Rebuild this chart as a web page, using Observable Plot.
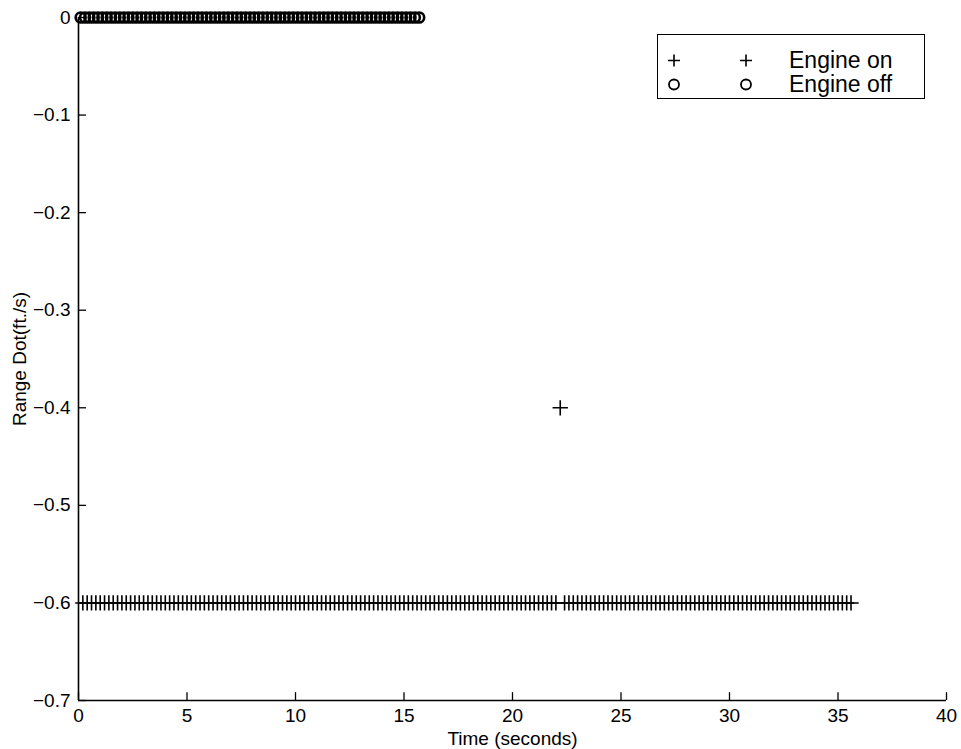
<!DOCTYPE html>
<html>
<head>
<meta charset="utf-8">
<script src="https://cdn.jsdelivr.net/npm/d3@7"></script>
<script src="https://cdn.jsdelivr.net/npm/@observablehq/plot@0.6"></script>
<style>
  html, body { margin: 0; padding: 0; background: #fff; }
  #wrap { position: relative; width: 961px; height: 749px; }
  #legend { position: absolute; left: 657px; top: 34px; width: 268px; height: 65px;
    border: 1.5px solid #000; background: #fff; box-sizing: border-box;
    font-family: "Liberation Sans", Arial, sans-serif; font-size: 23px; color: #000; }
  #legend .row { position: absolute; left: 0; height: 23px; width: 100%; }
  #legend .lab { position: absolute; left: 131px; top: 0; line-height: 23px; }
  #legend svg { position: absolute; top: 0; }
</style>
</head>
<body>
<div id="wrap">
  <div id="chart"></div>
  <div id="legend"></div>
</div>
<script>
const xTicks = [0, 5, 10, 15, 20, 25, 30, 35, 40];
const yTicks = [0, -0.1, -0.2, -0.3, -0.4, -0.5, -0.6, -0.7];
const seriesNames = ["Engine on", "Engine off"];

// Engine on samples (time, range dot)
const onTime = [
  0.2,0.4,0.6,0.8,1.0,1.2,1.4,1.6,1.8,2.0,
  2.2,2.4,2.6,2.8,3.0,3.2,3.4,3.6,3.8,4.0,
  4.2,4.4,4.6,4.8,5.0,5.2,5.4,5.6,5.8,6.0,
  6.2,6.4,6.6,6.8,7.0,7.2,7.4,7.6,7.8,8.0,
  8.2,8.4,8.6,8.8,9.0,9.2,9.4,9.6,9.8,10.0,
  10.2,10.4,10.6,10.8,11.0,11.2,11.4,11.6,11.8,12.0,
  12.2,12.4,12.6,12.8,13.0,13.2,13.4,13.6,13.8,14.0,
  14.2,14.4,14.6,14.8,15.0,15.2,15.4,15.6,15.8,16.0,
  16.2,16.4,16.6,16.8,17.0,17.2,17.4,17.6,17.8,18.0,
  18.2,18.4,18.6,18.8,19.0,19.2,19.4,19.6,19.8,20.0,
  20.2,20.4,20.6,20.8,21.0,21.2,21.4,21.6,21.8,22.0,
  22.2,22.4,22.6,22.8,23.0,23.2,23.4,23.6,23.8,24.0,
  24.2,24.4,24.6,24.8,25.0,25.2,25.4,25.6,25.8,26.0,
  26.2,26.4,26.6,26.8,27.0,27.2,27.4,27.6,27.8,28.0,
  28.2,28.4,28.6,28.8,29.0,29.2,29.4,29.6,29.8,30.0,
  30.2,30.4,30.6,30.8,31.0,31.2,31.4,31.6,31.8,32.0,
  32.2,32.4,32.6,32.8,33.0,33.2,33.4,33.6,33.8,34.0,
  34.2,34.4,34.6,34.8,35.0,35.2,35.4,35.6
];
const onValue = [
  -0.6,-0.6,-0.6,-0.6,-0.6,-0.6,-0.6,-0.6,-0.6,-0.6,
  -0.6,-0.6,-0.6,-0.6,-0.6,-0.6,-0.6,-0.6,-0.6,-0.6,
  -0.6,-0.6,-0.6,-0.6,-0.6,-0.6,-0.6,-0.6,-0.6,-0.6,
  -0.6,-0.6,-0.6,-0.6,-0.6,-0.6,-0.6,-0.6,-0.6,-0.6,
  -0.6,-0.6,-0.6,-0.6,-0.6,-0.6,-0.6,-0.6,-0.6,-0.6,
  -0.6,-0.6,-0.6,-0.6,-0.6,-0.6,-0.6,-0.6,-0.6,-0.6,
  -0.6,-0.6,-0.6,-0.6,-0.6,-0.6,-0.6,-0.6,-0.6,-0.6,
  -0.6,-0.6,-0.6,-0.6,-0.6,-0.6,-0.6,-0.6,-0.6,-0.6,
  -0.6,-0.6,-0.6,-0.6,-0.6,-0.6,-0.6,-0.6,-0.6,-0.6,
  -0.6,-0.6,-0.6,-0.6,-0.6,-0.6,-0.6,-0.6,-0.6,-0.6,
  -0.6,-0.6,-0.6,-0.6,-0.6,-0.6,-0.6,-0.6,-0.6,-0.6,
  -0.4,-0.6,-0.6,-0.6,-0.6,-0.6,-0.6,-0.6,-0.6,-0.6,
  -0.6,-0.6,-0.6,-0.6,-0.6,-0.6,-0.6,-0.6,-0.6,-0.6,
  -0.6,-0.6,-0.6,-0.6,-0.6,-0.6,-0.6,-0.6,-0.6,-0.6,
  -0.6,-0.6,-0.6,-0.6,-0.6,-0.6,-0.6,-0.6,-0.6,-0.6,
  -0.6,-0.6,-0.6,-0.6,-0.6,-0.6,-0.6,-0.6,-0.6,-0.6,
  -0.6,-0.6,-0.6,-0.6,-0.6,-0.6,-0.6,-0.6,-0.6,-0.6,
  -0.6,-0.6,-0.6,-0.6,-0.6,-0.6,-0.6,-0.6
];

// Engine off samples (time, range dot)
const offTime = [
  0.1,0.3,0.5,0.7,0.9,1.1,1.3,1.5,1.7,1.9,
  2.1,2.3,2.5,2.7,2.9,3.1,3.3,3.5,3.7,3.9,
  4.1,4.3,4.5,4.7,4.9,5.1,5.3,5.5,5.7,5.9,
  6.1,6.3,6.5,6.7,6.9,7.1,7.3,7.5,7.7,7.9,
  8.1,8.3,8.5,8.7,8.9,9.1,9.3,9.5,9.7,9.9,
  10.1,10.3,10.5,10.7,10.9,11.1,11.3,11.5,11.7,11.9,
  12.1,12.3,12.5,12.7,12.9,13.1,13.3,13.5,13.7,13.9,
  14.1,14.3,14.5,14.7,14.9,15.1,15.3,15.5,15.7
];
const offValue = [
  0,0,0,0,0,0,0,0,0,0,
  0,0,0,0,0,0,0,0,0,0,
  0,0,0,0,0,0,0,0,0,0,
  0,0,0,0,0,0,0,0,0,0,
  0,0,0,0,0,0,0,0,0,0,
  0,0,0,0,0,0,0,0,0,0,
  0,0,0,0,0,0,0,0,0,0,
  0,0,0,0,0,0,0,0,0
];

const onData = onTime.map((t, i) => ({t, v: onValue[i]}));
const offData = offTime.map((t, i) => ({t, v: offValue[i]}));

const chart = Plot.plot({
  width: 961,
  height: 749,
  marginLeft: 78,
  marginRight: 15,
  marginTop: 17,
  marginBottom: 49,
  style: {fontFamily: "'Liberation Sans', Arial, sans-serif", fontSize: "19px", color: "#000", background: "#fff"},
  x: {domain: [0, 40]},
  y: {domain: [-0.7, 0]},
  marks: [
    Plot.axisX(xTicks, {tickSize: 0, tickPadding: 8, label: "Time (seconds)", labelAnchor: "center", labelArrow: "none", labelOffset: 44, fontSize: 19}),
    Plot.axisY(yTicks, {tickSize: 0, tickPadding: 8, label: "Range Dot(ft./s)", labelAnchor: "center", labelArrow: "none", labelOffset: 66, fontSize: 19, tickFormat: d => d === 0 ? "0" : d3.format(".1f")(d).replace("-", "\u2212")}),
    Plot.ruleX(xTicks, {x: d => d, y1: -0.7, y2: -0.692, stroke: "#000", strokeWidth: 1.3}),
    Plot.ruleY(yTicks, {y: d => d, x1: 0, x2: 0.37, stroke: "#000", strokeWidth: 1.3}),
    Plot.ruleX([0], {stroke: "#000", strokeWidth: 1.6}),
    Plot.ruleY([-0.7], {stroke: "#000", strokeWidth: 1.6}),
    Plot.dot(offData, {x: "t", y: "v", r: 5, symbol: "circle", stroke: "#000", strokeWidth: 2.6, fill: "none"}),
    Plot.dot(onData, {x: "t", y: "v", r: 5, symbol: "plus", stroke: "#000", strokeWidth: 1.6})
  ]
});
document.getElementById("chart").appendChild(chart);

// Legend (inside the plot, top right)
const legend = document.getElementById("legend");
const plusSvg = (x) => `<svg style="left:${x - 8}px" width="16" height="23"><path d="M2,11.5H14M8,5.5V17.5" stroke="#000" stroke-width="1.6"/></svg>`;
const circSvg = (x) => `<svg style="left:${x - 8}px" width="16" height="23"><circle cx="8" cy="11.5" r="5" stroke="#000" stroke-width="1.8" fill="none"/></svg>`;
legend.innerHTML =
  `<div class="row" style="top:14px">${plusSvg(16)}${plusSvg(88)}<span class="lab">${seriesNames[0]}</span></div>` +
  `<div class="row" style="top:38px">${circSvg(16)}${circSvg(88)}<span class="lab">${seriesNames[1]}</span></div>`;
</script>
</body>
</html>
